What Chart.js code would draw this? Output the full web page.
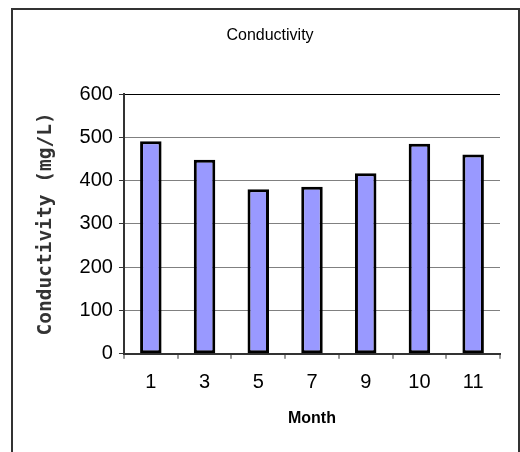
<!DOCTYPE html>
<html>
<head>
<meta charset="utf-8">
<script src="https://cdn.jsdelivr.net/npm/chart.js@4/dist/chart.umd.min.js"></script>
<style>
  html, body { margin: 0; padding: 0; background: #fff; overflow: hidden; }
  #wrap { position: relative; width: 520px; height: 452px; }
  #frame { position: absolute; left: 11px; top: 8px; width: 505px; height: 500px;
           border-left: 2px solid #333; border-top: 2px solid #333; border-right: 2px solid #333; pointer-events: none; }
  canvas { position: absolute; left: 0; top: 0; }
</style>
</head>
<body>
<div id="wrap">
  <canvas id="c" width="520" height="452"></canvas>
  <div id="frame"></div>
</div>
<script>
const months = ["1", "3", "5", "7", "9", "10", "11"];
const conductivity = [491, 448, 380, 386, 417, 485, 460];
const yTicks = [0, 100, 200, 300, 400, 500, 600];

const chartTitle = "Conductivity";
const xTitle = "Month";
const yTitle = "Conductivity (mg/L)";

new Chart(document.getElementById('c'), {
  type: 'bar',
  data: {
    labels: months,
    datasets: [{
      data: conductivity,
      backgroundColor: '#9999FF',
      borderColor: '#000000',
      borderWidth: 3,
      borderSkipped: false,
      barPercentage: 0.4,
      categoryPercentage: 1.0
    }]
  },
  options: {
    responsive: false,
    animation: false,
    layout: { padding: { left: 40, right: 20, top: 0, bottom: 24 } },
    plugins: {
      legend: { display: false },
      tooltip: { enabled: false },
      title: {
        display: true,
        text: chartTitle,
        color: '#000',
        font: { family: '"Liberation Sans", Arial, sans-serif', size: 16, weight: 'normal' },
        padding: { top: 26.4, bottom: 48.4 }
      }
    },
    scales: {
      x: {
        grid: {
          display: true,
          offset: true,
          drawOnChartArea: true,
          color: (ctx) => ctx.index === months.length ? '#808080' : 'rgba(0,0,0,0)',
          lineWidth: 2,
          tickColor: '#333',
          tickLength: 5,
          tickWidth: 1
        },
        border: { display: true, color: '#333', width: 2 },
        ticks: {
          color: '#000',
          padding: 12,
          maxRotation: 0,
          autoSkip: false,
          font: { family: '"Liberation Sans", Arial, sans-serif', size: 20 }
        },
        title: {
          display: true,
          text: xTitle,
          color: '#000',
          font: { family: '"Liberation Sans", Arial, sans-serif', size: 16, weight: 'bold' },
          padding: { top: 2, bottom: 0 }
        }
      },
      y: {
        min: 0,
        max: 600,
        afterBuildTicks: (axis) => { axis.ticks = yTicks.map(v => ({ value: v })); },
        grid: {
          color: (ctx) => ctx.tick && ctx.tick.value === 600 ? '#000' : '#808080',
          lineWidth: 1,
          tickColor: '#333',
          tickLength: 5
        },
        border: { display: true, color: '#333', width: 2 },
        ticks: {
          color: '#000',
          padding: 6,
          font: { family: '"Liberation Sans", Arial, sans-serif', size: 20 }
        },
        title: {
          display: true,
          text: yTitle,
          color: '#333',
          font: { family: '"DejaVu Sans Mono", monospace', size: 19.5, weight: 'bold' },
          padding: { top: -5.7, bottom: 15.9 }
        }
      }
    }
  }
});
</script>
</body>
</html>
